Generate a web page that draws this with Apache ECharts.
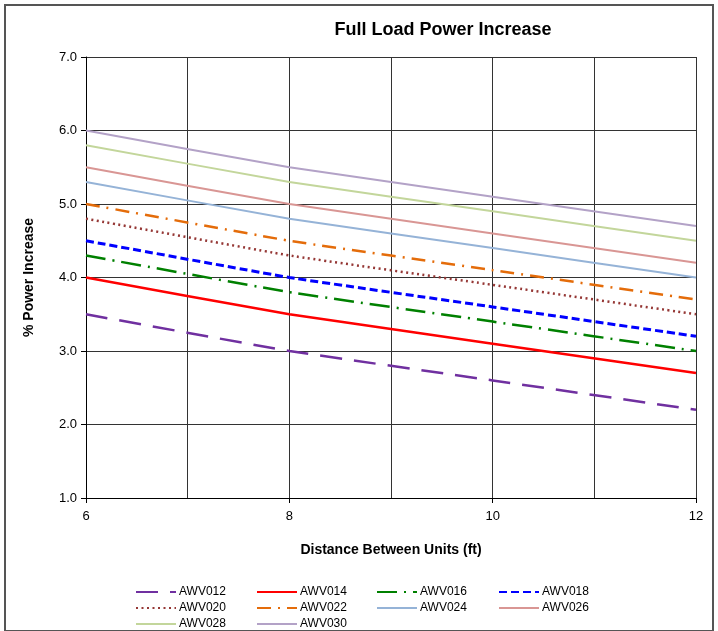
<!DOCTYPE html>
<html>
<head>
<meta charset="utf-8">
<script src="https://cdn.jsdelivr.net/npm/echarts@6/dist/echarts.min.js"></script>
<style>
  html, body {margin: 0; padding: 0; background: #fff;}
  #chart {width: 718px; height: 631px;}
  #frame {position: absolute; left: 4px; top: 4px; width: 706px; height: 624px; border: 2px solid #555; pointer-events: none;}
</style>
</head>
<body>
<div id="chart"></div>
<div id="frame"></div>
<script>
// distance between units (ft)
var distances = [6, 8, 10, 12];
var names = ['AWV012', 'AWV014', 'AWV016', 'AWV018', 'AWV020', 'AWV022', 'AWV024', 'AWV026', 'AWV028', 'AWV030'];
var awv012 = [3.5, 3.0, 2.6, 2.2];
var awv014 = [4.0, 3.5, 3.1, 2.7];
var awv016 = [4.3, 3.8, 3.4, 3.0];
var awv018 = [4.5, 4.0, 3.6, 3.2];
var awv020 = [4.8, 4.3, 3.9, 3.5];
var awv022 = [5.0, 4.5, 4.1, 3.7];
var awv024 = [5.3, 4.8, 4.4, 4.0];
var awv026 = [5.5, 5.0, 4.6, 4.2];
var awv028 = [5.8, 5.3, 4.9, 4.5];
var awv030 = [6.0, 5.5, 5.1, 4.7];
var values = [awv012, awv014, awv016, awv018, awv020, awv022, awv024, awv026, awv028, awv030];

var styles = [
    {color: '#7030A0', width: 2.5, type: [22, 12]},
    {color: '#FF0000', width: 2.5, type: 'solid'},
    {color: '#008000', width: 2.5, type: [20, 7, 2, 7]},
    {color: '#0000FF', width: 3, type: [8, 4]},
    {color: '#953735', width: 2.5, type: [2, 3.5]},
    {color: '#E46C0A', width: 2.5, type: [14, 7, 2, 7]},
    {color: '#95B3D7', width: 2, type: 'solid'},
    {color: '#D99694', width: 2, type: 'solid'},
    {color: '#C3D69B', width: 2, type: 'solid'},
    {color: '#B3A2C7', width: 2, type: 'solid'}
];

var font = 'Liberation Sans, Arial, sans-serif';

var series = names.map(function (n, i) {
    return {
        name: n, type: 'line', symbol: 'none', showSymbol: false, smooth: 0.1,
        data: distances.map(function (d, j) { return [d, values[i][j]]; }),
        lineStyle: styles[i], itemStyle: {color: styles[i].color}
    };
});

function legendCol(left, data) {
    return {
        orient: 'vertical', left: left, top: 586, padding: 0, itemWidth: 40, itemHeight: 11, itemGap: 4,
        itemStyle: {opacity: 0},
        data: data, textStyle: {fontFamily: font, fontSize: 12, color: '#000', padding: [0, 0, 0, -2]}
    };
}

var chart = echarts.init(document.getElementById('chart'));
var option = {
    backgroundColor: '#fff',
    animation: false,
    title: {text: 'Full Load Power Increase', left: 438, top: 16, textAlign: 'center',
        textStyle: {fontFamily: font, fontSize: 18, fontWeight: 'bold', color: '#000'}},
    legend: [
        legendCol(135, ['AWV012', 'AWV020', 'AWV028']),
        legendCol(256, ['AWV014', 'AWV022', 'AWV030']),
        legendCol(376, ['AWV016', 'AWV024']),
        legendCol(498, ['AWV018', 'AWV026'])
    ],
    grid: {left: 86, right: 22, top: 57, bottom: 133},
    xAxis: {
        type: 'value', min: 6, max: 12, interval: 2,
        name: 'Distance Between Units (ft)', nameLocation: 'middle', nameGap: 45,
        nameTextStyle: {fontFamily: font, fontSize: 14, fontWeight: 'bold', color: '#000'},
        axisLine: {lineStyle: {color: '#000', width: 1}},
        axisTick: {show: true, length: 5, lineStyle: {color: '#000'}},
        axisLabel: {fontFamily: font, fontSize: 13, color: '#000', margin: 12},
        splitLine: {show: true, lineStyle: {color: '#333', width: 1}},
        minorTick: {show: false, splitNumber: 2},
        minorSplitLine: {show: true, lineStyle: {color: '#333', width: 1}}
    },
    yAxis: {
        type: 'value', min: 1, max: 7, interval: 1,
        name: '% Power Increase', nameLocation: 'middle', nameGap: 50,
        nameTextStyle: {fontFamily: font, fontSize: 14, fontWeight: 'bold', color: '#000'},
        axisLine: {show: true, lineStyle: {color: '#000', width: 1}},
        axisTick: {show: true, length: 5, lineStyle: {color: '#000'}},
        axisLabel: {fontFamily: font, fontSize: 13, color: '#000', margin: 9,
            formatter: function (v) { return v.toFixed(1); }},
        splitLine: {show: true, lineStyle: {color: '#333', width: 1}}
    },
    series: series
};
chart.setOption(option);
</script>
</body>
</html>
